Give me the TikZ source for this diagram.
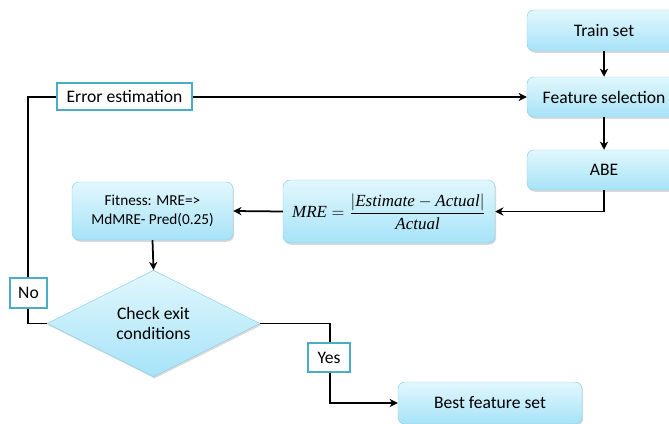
\documentclass[tikz,border=0pt]{standalone}
\usepackage{fontspec}
\setmainfont{Carlito}
\newfontfamily\formfont{Liberation Serif}
\usetikzlibrary{shapes.geometric,arrows.meta,shadows}
\definecolor{boxtop}{HTML}{E2F7FD}
\definecolor{boxbot}{HTML}{A6E3F8}
\definecolor{boxline}{HTML}{8ACFE6}
\definecolor{tagline}{HTML}{4BACC6}
\newcommand{\fvar}[1]{\mbox{\formfont\itshape #1}}

\begin{document}
\begin{tikzpicture}
        \tikzstyle{blk} = [draw, black, line width=1.5pt, -{Stealth[length=7pt,width=7pt]}]
        \tikzstyle{stepbox} = [draw=boxline, rounded corners=6pt, top color=boxtop, bottom color=boxbot,
            drop shadow={opacity=0.3, shadow xshift=1pt, shadow yshift=-1.5pt},
            font=\fontsize{15}{17}\selectfont, align=center]
        \tikzstyle{tag} = [draw=tagline, line width=1.5pt, fill=white, font=\fontsize{15}{17}\selectfont]

        \useasboundingbox (0,0) rectangle (20.07,12.69);

        \node[stepbox, minimum width=4.62cm, minimum height=1.23cm] (train) at (18.12, 11.775) {Train set};
        \node[stepbox, minimum width=4.62cm, minimum height=1.2cm] (feature) at (18.12, 9.78) {Feature selection};
        \node[stepbox, minimum width=4.62cm, minimum height=1.2cm] (abe) at (18.12, 7.59) {ABE};
        \node[stepbox, minimum width=6.36cm, minimum height=1.89cm, inner sep=1pt, font=\fontsize{14.5}{17}\selectfont] (mre) at (11.67, 6.345)
            {$\displaystyle \fvar{MRE}=\frac{\left|\fvar{Estimate}-\fvar{Actual}\right|}{\fvar{Actual}}$};
        \node[stepbox, minimum width=4.83cm, minimum height=1.74cm, font=\fontsize{13}{16}\selectfont] (fitness) at (4.575, 6.36)
            {Fitness: MRE=>\\MdMRE- Pred(0.25)};
        \node[stepbox, diamond, rounded corners=0pt, inner sep=0pt, minimum width=6.39cm, minimum height=3.09cm] (check) at (4.605, 2.985)
            {Check exit\\conditions};
        \node[stepbox, minimum width=5.52cm, minimum height=1.26cm] (best) at (14.7, 0.6) {Best feature set};

        \coordinate (noturn) at (0.84, 9.78);
        \coordinate (yesturn) at (9.9, 0.6);

        \path[blk] (train) to (feature);
        \path[blk] (feature) to (abe);
        \path[blk] (abe.south) |- (mre.east);
        \path[blk] (mre.west) to (fitness.east);
        \path[blk] (fitness.south) to (check.north);
        \path[blk] (check.west) -| (noturn) -- (feature.west);
        \path[blk] (check.east) -| (yesturn) -- (best.west);

        \node[tag, minimum width=1.11cm, minimum height=0.9cm] (no) at (0.855, 3.9) {No};
        \node[tag, minimum width=4.05cm, minimum height=0.81cm] (error) at (3.735, 9.795) {Error estimation};
        \node[tag, minimum width=1.26cm, minimum height=0.87cm] (yes) at (9.87, 1.965) {Yes};
    \end{tikzpicture}
\end{document}
